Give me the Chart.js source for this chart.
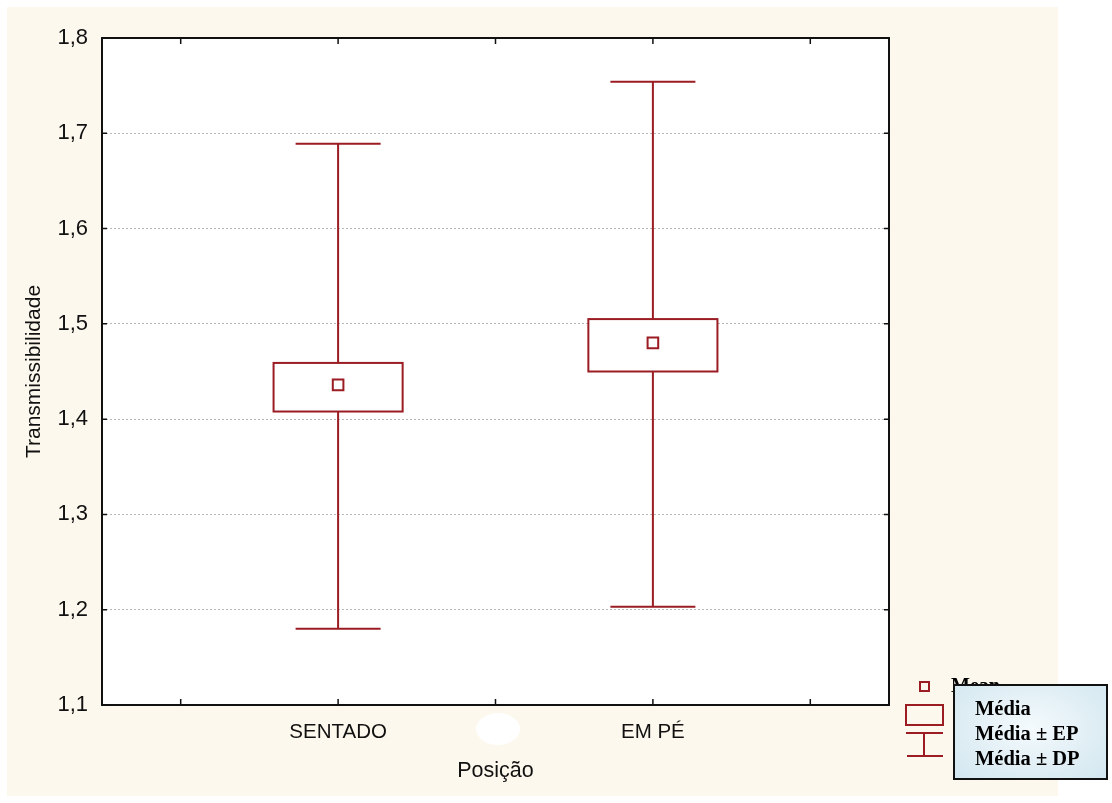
<!DOCTYPE html>
<html>
<head>
  <title>Transmissibilidade por Posição</title>
  <script src="https://cdn.jsdelivr.net/npm/chart.js"></script>
  <style>
    body {
      margin: 0;
      background: #ffffff;
      font-family: "Liberation Sans", Arial, sans-serif;
    }
    #wrap {
      position: relative;
      width: 1112px;
      height: 803px;
    }
    #chart {
      position: absolute;
      left: 0;
      top: 0;
    }
    .mean-hidden {
      position: absolute;
      left: 951px;
      top: 674px;
      font: bold 20px "Liberation Serif", "Times New Roman", serif;
      color: #000;
    }
    .legend-box {
      position: absolute;
      left: 953px;
      top: 684px;
      width: 155px;
      height: 96px;
      border: 2px solid #111;
      background: radial-gradient(ellipse at 50% 45%, #f4fafd 0%, #dcecf3 70%, #d3e7f0 100%);
      font: bold 20.5px "Liberation Serif", "Times New Roman", serif;
      color: #000;
      box-sizing: border-box;
      padding: 10px 0 0 20px;
      line-height: 25px;
    }
  </style>
</head>
<body>
<div id="wrap">
  <canvas id="chart" width="1112" height="803"></canvas>
  <div class="mean-hidden">Mean</div>
  <div class="legend-box">Média<br>Média ± EP<br>Média ± DP</div>
</div>

<script>
  // data
  const categories = ['SENTADO', 'EM PÉ'];
  const catPos = [2, 4];
  const means = [1.436, 1.480];
  const seLow = [1.408, 1.450];
  const seHigh = [1.459, 1.505];
  const sdLow = [1.180, 1.203];
  const sdHigh = [1.689, 1.754];
  const yTicks = [1.1, 1.2, 1.3, 1.4, 1.5, 1.6, 1.7, 1.8];

  const RED = '#9b1c22';
  const BOX_HALF = 0.41;
  const CAP_HALF = 0.27;

  const bgPlugin = {
    id: 'bg',
    beforeDraw(chart) {
      const c = chart.ctx;
      const a = chart.chartArea;
      c.save();
      c.fillStyle = '#ffffff';
      c.fillRect(0, 0, chart.width, chart.height);
      c.fillStyle = '#fdf8ed';
      c.fillRect(7, 7, 1051, 789);
      c.fillStyle = '#ffffff';
      c.fillRect(a.left, a.top, a.right - a.left, a.bottom - a.top);
      // white blotch under the axis
      c.beginPath();
      c.ellipse(498, 729, 22, 16, 0, 0, Math.PI * 2);
      c.fill();
      c.restore();
    }
  };

  const boxPlugin = {
    id: 'boxes',
    beforeDatasetsDraw(chart) {
      const c = chart.ctx;
      const xs = chart.scales.x, ys = chart.scales.y;
      c.save();
      c.strokeStyle = RED;
      c.lineWidth = 2;
      catPos.forEach((p, i) => {
        const x = xs.getPixelForValue(p);
        const yTop = ys.getPixelForValue(sdHigh[i]);
        const yBot = ys.getPixelForValue(sdLow[i]);
        const capL = xs.getPixelForValue(p - CAP_HALF);
        const capR = xs.getPixelForValue(p + CAP_HALF);
        c.beginPath();
        c.moveTo(x, yTop); c.lineTo(x, yBot);
        c.moveTo(capL, yTop); c.lineTo(capR, yTop);
        c.moveTo(capL, yBot); c.lineTo(capR, yBot);
        c.stroke();
        const bl = xs.getPixelForValue(p - BOX_HALF);
        const br = xs.getPixelForValue(p + BOX_HALF);
        const bt = ys.getPixelForValue(seHigh[i]);
        const bb = ys.getPixelForValue(seLow[i]);
        c.fillStyle = '#ffffff';
        c.fillRect(bl, bt, br - bl, bb - bt);
        c.strokeRect(bl, bt, br - bl, bb - bt);
      });
      c.restore();
    },
    afterDraw(chart) {
      const c = chart.ctx;
      const a = chart.chartArea;
      const xs = chart.scales.x, ys = chart.scales.y;
      c.save();
      // frame
      c.strokeStyle = '#111';
      c.lineWidth = 2;
      c.strokeRect(a.left, a.top, a.right - a.left, a.bottom - a.top);
      // inward tick marks
      c.lineWidth = 1.5;
      c.beginPath();
      [1, 2, 3, 4, 5].forEach(v => {
        const x = xs.getPixelForValue(v);
        c.moveTo(x, a.bottom); c.lineTo(x, a.bottom - 6);
        c.moveTo(x, a.top); c.lineTo(x, a.top + 6);
      });
      yTicks.forEach(v => {
        const y = ys.getPixelForValue(v);
        c.moveTo(a.left, y); c.lineTo(a.left + 5, y);
        c.moveTo(a.right, y); c.lineTo(a.right - 5, y);
      });
      c.stroke();
      // legend symbols
      c.strokeStyle = RED;
      c.lineWidth = 2;
      c.strokeRect(920, 682, 9, 9);
      c.strokeRect(906, 705, 37, 20);
      c.beginPath();
      c.moveTo(906, 733); c.lineTo(943, 733);
      c.moveTo(924, 733); c.lineTo(924, 756);
      c.moveTo(907, 756); c.lineTo(943, 756);
      c.stroke();
      c.restore();
    }
  };

  new Chart(document.getElementById('chart'), {
    type: 'scatter',
    data: {
      datasets: [{
        label: 'Média',
        data: catPos.map((p, i) => ({ x: p, y: means[i] })),
        pointStyle: 'rect',
        pointRadius: 7.5,
        pointBorderWidth: 2,
        borderColor: RED,
        backgroundColor: '#ffffff'
      }]
    },
    options: {
      responsive: false,
      animation: false,
      layout: { padding: { left: 8, top: 38, right: 223, bottom: 8 } },
      plugins: { legend: { display: false }, tooltip: { enabled: false } },
      scales: {
        x: {
          type: 'linear',
          min: 0.5,
          max: 5.5,
          afterFit: s => { s.height = 90; },
          afterBuildTicks: s => { s.ticks = [1, 2, 3, 4, 5].map(v => ({ value: v })); },
          grid: { display: false, drawTicks: false },
          border: { display: false },
          ticks: {
            padding: 15,
            color: '#111',
            font: { family: 'Liberation Sans', size: 20.5 },
            autoSkip: false,
            maxRotation: 0,
            callback: v => {
              const i = catPos.indexOf(v);
              return i >= 0 ? categories[i] : '';
            }
          },
          title: {
            display: true,
            text: 'Posição',
            color: '#111',
            font: { family: 'Liberation Sans', size: 21.5 },
            padding: { top: 0, bottom: 11 }
          }
        },
        y: {
          min: 1.1,
          max: 1.8,
          afterFit: s => { s.width = 94; },
          afterBuildTicks: s => { s.ticks = yTicks.map(v => ({ value: v })); },
          grid: {
            drawTicks: false,
            color: ctx => (ctx.tick && (ctx.tick.value <= 1.1 || ctx.tick.value >= 1.8)) ? 'rgba(0,0,0,0)' : '#b8b8b8',
            lineWidth: 1
          },
          border: { display: false, dash: [2, 2] },
          ticks: {
            padding: 14,
            color: '#111',
            font: { family: 'Liberation Sans', size: 22 },
            callback: v => v.toFixed(1).replace('.', ',')
          },
          title: {
            display: true,
            text: 'Transmissibilidade',
            color: '#111',
            font: { family: 'Liberation Sans', size: 21 },
            padding: { top: 14, bottom: 0 }
          }
        }
      }
    },
    plugins: [bgPlugin, boxPlugin]
  });
</script>
</body>
</html>
